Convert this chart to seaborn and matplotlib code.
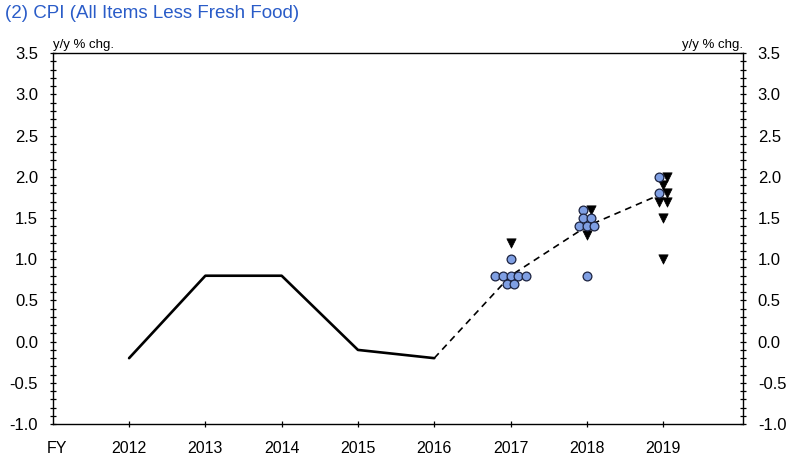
import pandas as pd
import seaborn as sns
import matplotlib.pyplot as plt
from matplotlib.ticker import MultipleLocator

sns.set_theme(style="white")
plt.rcParams['font.family'] = ['Liberation Sans', 'DejaVu Sans']

# actual (solid) and median forecast (dashed)
actual_years = [2012, 2013, 2014, 2015, 2016]
actual_cpi = [-0.2, 0.8, 0.8, -0.1, -0.2]
median_years = [2016, 2017, 2018, 2019]
median_cpi = [-0.2, 0.8, 1.4, 1.8]

# policy board members' forecasts: circles = balanced, triangles = downside risk
circles_2017 = [1.0, 0.8, 0.8, 0.8, 0.8, 0.8, 0.7, 0.7]
triangles_2017 = [1.2]
circles_2018 = [1.6, 1.5, 1.5, 1.4, 1.4, 1.4, 0.8]
triangles_2018 = [1.6, 1.3]
circles_2019 = [2.0, 1.8]
triangles_2019 = [2.0, 1.9, 1.8, 1.7, 1.7, 1.5, 1.0]

year_labels = ['2012', '2013', '2014', '2015', '2016', '2017', '2018', '2019']

rows = []
for yr, circ, tri in [(2017, circles_2017, triangles_2017),
                      (2018, circles_2018, triangles_2018),
                      (2019, circles_2019, triangles_2019)]:
    for v in circ:
        rows.append({'year': yr, 'value': v, 'risk': 'balanced'})
    for v in tri:
        rows.append({'year': yr, 'value': v, 'risk': 'downside'})
members = pd.DataFrame(rows)

# spread marks sharing the same value side by side
members['n'] = members.groupby(['year', 'value'])['value'].transform('size')
members['i'] = members.groupby(['year', 'value']).cumcount()
members['x'] = members['year'] + (members['i'] - (members['n'] - 1) / 2) * 0.1

fig = plt.figure(figsize=(8, 4.62), dpi=100)
ax = fig.add_axes([0.066, 0.082, 0.863, 0.803])

sns.lineplot(x=actual_years, y=actual_cpi, ax=ax, color='black', lw=1.9)
sns.lineplot(x=median_years, y=median_cpi, ax=ax, color='black', lw=1.2,
             linestyle=(0, (4, 3)))

circ = members[members['risk'] == 'balanced']
tri = members[members['risk'] == 'downside']
sns.scatterplot(data=tri, x='x', y='value', ax=ax, marker='v', color='black',
                s=45, edgecolor='black', linewidth=0.5, zorder=3)
sns.scatterplot(data=circ, x='x', y='value', ax=ax, marker='o', color='#7f9fe3',
                s=40, edgecolor='#1c2340', linewidth=0.9, zorder=4)

ax.set_xlim(2011, 2020.05)
ax.set_ylim(-1.0, 3.5)
ax.set_xticks(range(2012, 2020))
ax.set_xticklabels(year_labels)
ax.yaxis.set_major_locator(MultipleLocator(0.5))
ax.yaxis.set_minor_locator(MultipleLocator(0.1))
ax.yaxis.set_major_formatter(plt.FormatStrFormatter('%.1f'))
ax.tick_params(axis='y', which='both', direction='inout', length=5, width=0.9,
               left=True, right=True, labelleft=True, labelright=True,
               labelsize=12, pad=8, colors='black')
ax.tick_params(axis='x', direction='inout', length=5, width=0.9, bottom=True,
               labelsize=11.5, pad=10, colors='black')
ax.set_xlabel('')
ax.set_ylabel('')
for sp in ax.spines.values():
    sp.set_color('black')
    sp.set_linewidth(1.0)

ax.annotate('FY', xy=(0, 0), xycoords='axes fraction', xytext=(3, -12),
            textcoords='offset points', ha='center', va='top', fontsize=11.5,
            color='black')

ax.text(0.0, 1.005, 'y/y % chg.', transform=ax.transAxes, ha='left',
        va='bottom', fontsize=9.5, color='black')
ax.text(1.0, 1.005, 'y/y % chg.', transform=ax.transAxes, ha='right',
        va='bottom', fontsize=9.5, color='black')

fig.text(0.006, 0.99, '(2) CPI (All Items Less Fresh Food)', ha='left',
         va='top', fontsize=13.5, color='#2a5cc8')

fig.savefig('out.png', dpi=100)
